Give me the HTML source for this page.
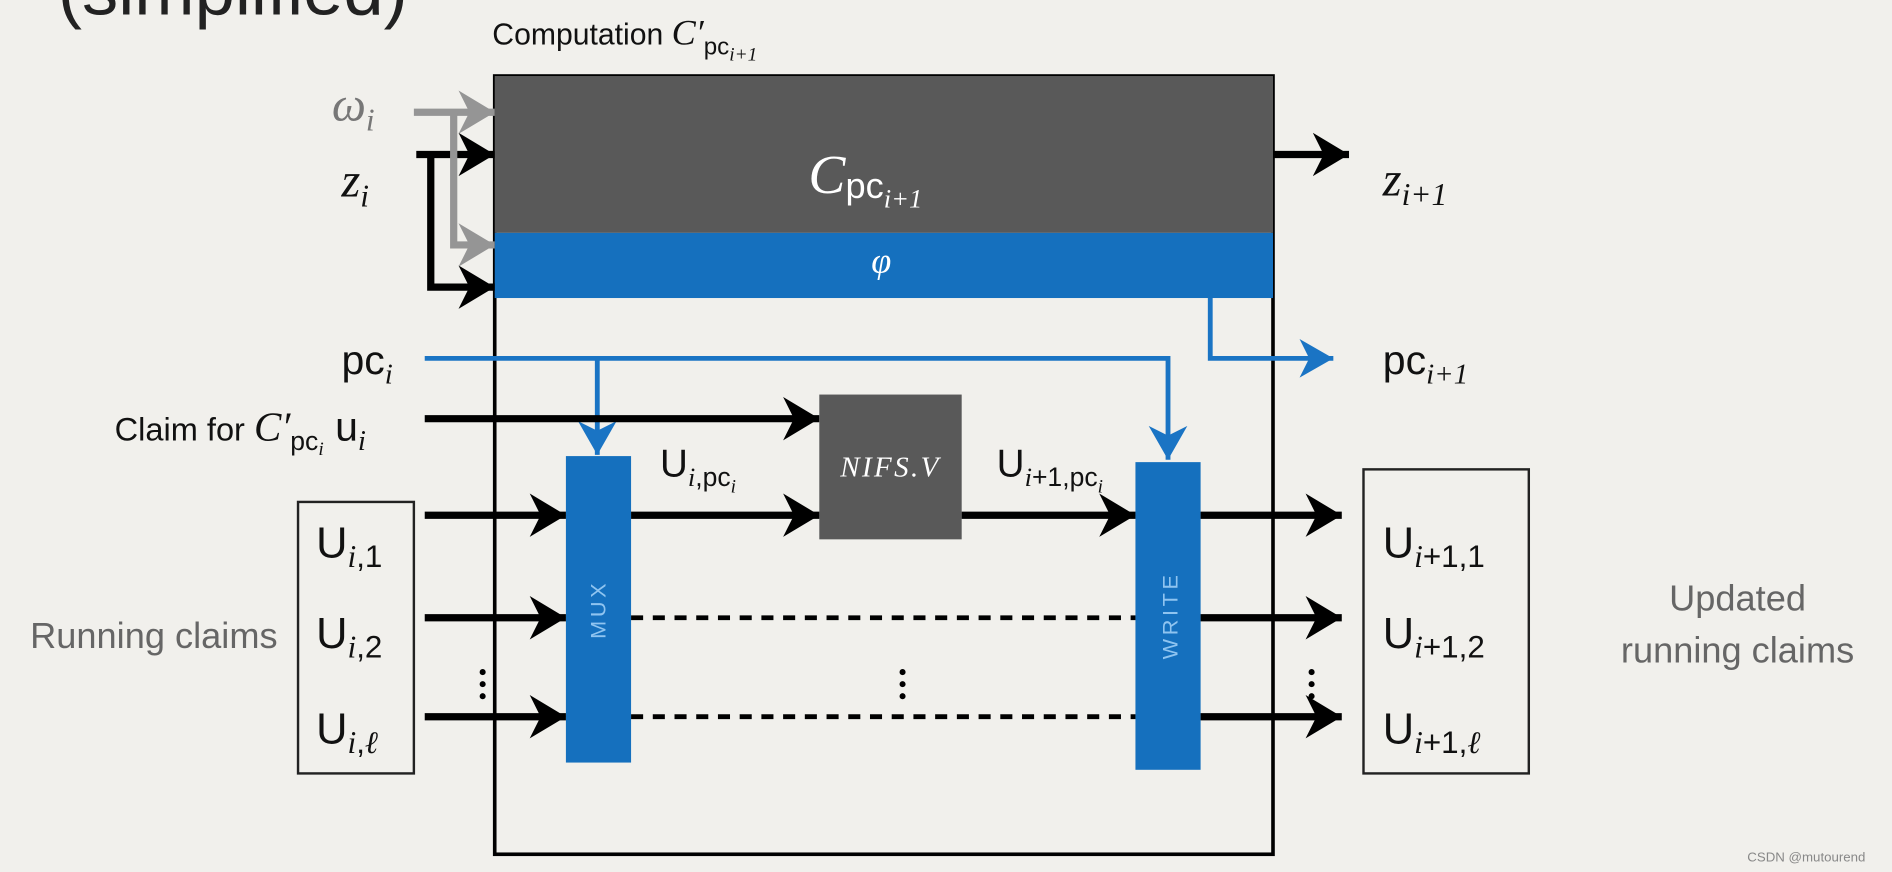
<!DOCTYPE html>
<html><head><meta charset="utf-8"><style>
html,body{margin:0;padding:0;background:#f1f0ec;}
svg{display:block}
text{font-family:"Liberation Sans",sans-serif;}
.m{font-family:"Liberation Serif",serif;font-style:italic;}
</style></head><body>
<svg width="1892" height="872" viewBox="0 0 1568 722.7" preserveAspectRatio="none" xmlns="http://www.w3.org/2000/svg">
<defs>
<marker id="ab" markerWidth="6" markerHeight="6" refX="5" refY="3" orient="auto" markerUnits="strokeWidth"><path d="M0,0 L5,3 L0,6 L1.5,3 z" fill="#000"/></marker>
<marker id="ag" markerWidth="6" markerHeight="6" refX="5" refY="3" orient="auto" markerUnits="strokeWidth"><path d="M0,0 L5,3 L0,6 L1.5,3 z" fill="#959595"/></marker>
<marker id="al" markerWidth="8" markerHeight="8" refX="7" refY="4" orient="auto" markerUnits="strokeWidth"><path d="M0,0 L7,4 L0,8 L2,4 z" fill="#1a74c4"/></marker>
</defs>
<rect width="1568" height="723" fill="#f1f0ec"/>
<text x="48" y="12" font-size="60" fill="#222">(simplified)</text>
<text x="408" y="37" font-size="25" fill="#111">Computation <tspan class="m" font-size="30">C′</tspan><tspan font-size="20" dy="8">pc</tspan><tspan class="m" font-size="16" dy="5">i+1</tspan></text>

<rect x="410" y="63" width="645" height="645" fill="none" stroke="#000" stroke-width="3"/>
<rect x="410" y="63" width="645" height="130" fill="#595959"/>
<rect x="410" y="193" width="645" height="54" fill="#1570be"/>
<text x="670" y="160" font-size="46" fill="#fff"><tspan class="m">C</tspan><tspan font-size="30" dy="4">pc</tspan><tspan class="m" font-size="22" dy="8">i+1</tspan></text>
<text x="722" y="226" font-size="30" fill="#fff" class="m">φ</text>

<text x="275" y="100" font-size="40" fill="#777" class="m">ω<tspan font-size="26" dy="8">i</tspan></text>
<text x="283" y="163" font-size="40" fill="#111" class="m">z<tspan font-size="26" dy="8">i</tspan></text>

<polyline points="357,128 357,238 410,238" fill="none" stroke="#000" stroke-width="6" marker-end="url(#ab)"/>
<line x1="345" y1="128" x2="410" y2="128" stroke="#000" stroke-width="6" marker-end="url(#ab)"/>
<line x1="343" y1="93" x2="410" y2="93" stroke="#959595" stroke-width="6" marker-end="url(#ag)"/>
<polyline points="376,93 376,203 410,203" fill="none" stroke="#959595" stroke-width="6" marker-end="url(#ag)"/>

<line x1="1055" y1="128" x2="1118" y2="128" stroke="#000" stroke-width="6" marker-end="url(#ab)"/>
<text x="1146" y="162" font-size="40" fill="#111" class="m">z<tspan font-size="26" dy="8">i+1</tspan></text>

<polyline points="1003,247 1003,297 1105,297" fill="none" stroke="#1a74c4" stroke-width="4" marker-end="url(#al)"/>
<text x="1146" y="310" font-size="34" fill="#111">pc<tspan class="m" font-size="24" dy="8">i+1</tspan></text>

<text x="283" y="310" font-size="34" fill="#111">pc<tspan class="m" font-size="24" dy="8">i</tspan></text>
<polyline points="352,297 968,297 968,381" fill="none" stroke="#1a74c4" stroke-width="4" marker-end="url(#al)"/>
<line x1="495" y1="297" x2="495" y2="377" stroke="#1a74c4" stroke-width="4" marker-end="url(#al)"/>

<text x="95" y="365" font-size="27" fill="#111">Claim for <tspan class="m" font-size="34">C′</tspan><tspan font-size="22" dy="8">pc</tspan><tspan class="m" font-size="16" dy="4">i</tspan><tspan font-size="34" dy="-12"> u</tspan><tspan class="m" font-size="24" dy="8">i</tspan></text>
<line x1="352" y1="347" x2="679" y2="347" stroke="#000" stroke-width="6" marker-end="url(#ab)"/>

<rect x="679" y="327" width="118" height="120" fill="#595959"/>
<text x="738" y="395" font-size="24" fill="#fff" class="m" text-anchor="middle" letter-spacing="2">NIFS.V</text>

<rect x="469" y="378" width="54" height="254" fill="#1570be"/>
<rect x="941" y="383" width="54" height="255" fill="#1570be"/>
<text transform="translate(502,505) rotate(-90)" font-size="18" fill="#8fc4f0" text-anchor="middle" letter-spacing="3">MUX</text>
<text transform="translate(976,510) rotate(-90)" font-size="18" fill="#8fc4f0" text-anchor="middle" letter-spacing="3">WRITE</text>

<text x="547" y="395" font-size="32" fill="#111">U<tspan class="m" font-size="22" dy="8">i</tspan><tspan font-size="22">,pc</tspan><tspan class="m" font-size="16" dy="5">i</tspan></text>
<text x="826" y="395" font-size="32" fill="#111">U<tspan class="m" font-size="22" dy="8">i</tspan><tspan font-size="22">+1,pc</tspan><tspan class="m" font-size="16" dy="5">i</tspan></text>
<line x1="523" y1="427" x2="679" y2="427" stroke="#000" stroke-width="6" marker-end="url(#ab)"/>
<line x1="797" y1="427" x2="941" y2="427" stroke="#000" stroke-width="6" marker-end="url(#ab)"/>

<g stroke="#000" stroke-width="6">
<line x1="352" y1="427" x2="469" y2="427" marker-end="url(#ab)"/>
<line x1="352" y1="512" x2="469" y2="512" marker-end="url(#ab)"/>
<line x1="352" y1="594" x2="469" y2="594" marker-end="url(#ab)"/>
<line x1="995" y1="427" x2="1112" y2="427" marker-end="url(#ab)"/>
<line x1="995" y1="512" x2="1112" y2="512" marker-end="url(#ab)"/>
<line x1="995" y1="594" x2="1112" y2="594" marker-end="url(#ab)"/>
<line x1="523" y1="512" x2="941" y2="512" stroke-width="4" stroke-dasharray="10,8"/>
<line x1="523" y1="594" x2="941" y2="594" stroke-width="4" stroke-dasharray="10,8"/>
</g>
<g fill="#000">
<circle cx="400" cy="557" r="2.5"/><circle cx="400" cy="567" r="2.5"/><circle cx="400" cy="577" r="2.5"/>
<circle cx="748" cy="557" r="2.5"/><circle cx="748" cy="567" r="2.5"/><circle cx="748" cy="577" r="2.5"/>
<circle cx="1087" cy="557" r="2.5"/><circle cx="1087" cy="567" r="2.5"/><circle cx="1087" cy="577" r="2.5"/>
</g>

<rect x="247" y="416" width="96" height="225" fill="none" stroke="#222" stroke-width="2"/>
<rect x="1130" y="389" width="137" height="252" fill="none" stroke="#222" stroke-width="2"/>
<g font-size="36" fill="#111">
<text x="262" y="462">U<tspan class="m" font-size="26" dy="8">i</tspan><tspan font-size="26">,1</tspan></text>
<text x="262" y="537">U<tspan class="m" font-size="26" dy="8">i</tspan><tspan font-size="26">,2</tspan></text>
<text x="262" y="616">U<tspan class="m" font-size="26" dy="8">i</tspan><tspan font-size="26">,</tspan><tspan class="m" font-size="26">ℓ</tspan></text>
<text x="1146" y="462">U<tspan class="m" font-size="26" dy="8">i</tspan><tspan font-size="26">+1,1</tspan></text>
<text x="1146" y="537">U<tspan class="m" font-size="26" dy="8">i</tspan><tspan font-size="26">+1,2</tspan></text>
<text x="1146" y="616">U<tspan class="m" font-size="26" dy="8">i</tspan><tspan font-size="26">+1,</tspan><tspan class="m" font-size="26">ℓ</tspan></text>
</g>

<text x="25" y="537" font-size="30" fill="#666">Running claims</text>
<text x="1440" y="506" font-size="30" fill="#666" text-anchor="middle">Updated</text>
<text x="1440" y="549" font-size="30" fill="#666" text-anchor="middle">running claims</text>
<text x="1546" y="714" font-size="11" fill="#888" text-anchor="end">CSDN @mutourend</text>
</svg>
</body></html>
